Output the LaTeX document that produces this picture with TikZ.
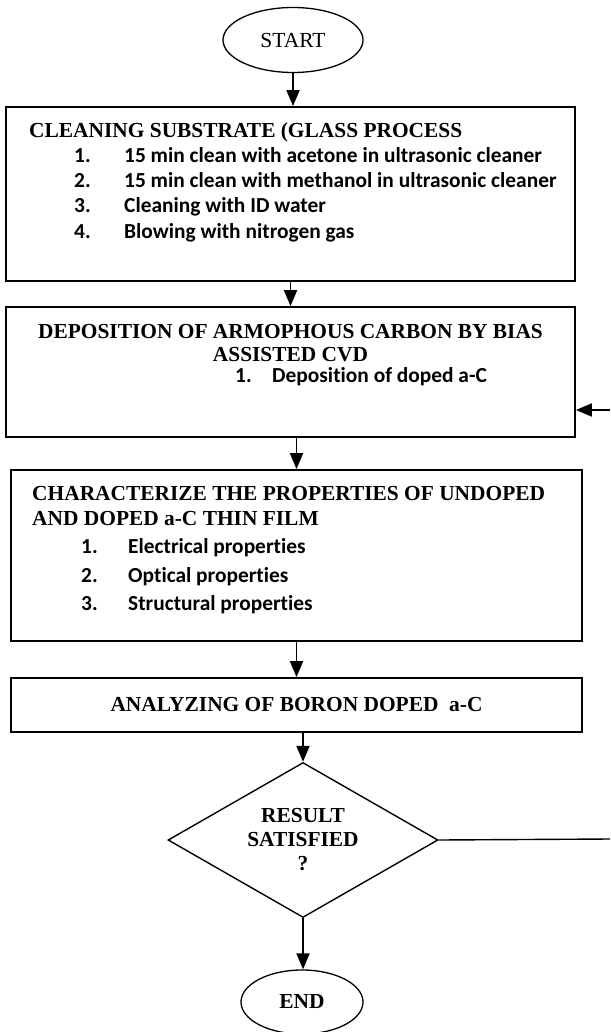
\documentclass[tikz,border=0pt]{standalone}
\usepackage{fontspec}
\setmainfont{Liberation Serif}
\newfontfamily\carlito[Ligatures=NoCommon]{Carlito}
\usetikzlibrary{shapes.geometric,arrows.meta}

\newcommand{\flowhead}{\bfseries\fontsize{21.4}{24}\selectfont}
\newcommand{\flowitem}{\carlito\bfseries\fontsize{21.4}{24}\selectfont}

\tikzset{
  flowbox/.style={rectangle, draw, line width=1.8pt, inner sep=0pt},
  termnode/.style={ellipse, draw, line width=1.3pt, inner sep=0pt},
  decnode/.style={diamond, draw, line width=1.4pt, aspect=1.74, inner sep=0pt, align=center, font=\flowhead},
  headtxt/.style={anchor=base west, inner sep=0pt, font=\flowhead},
  itemtxt/.style={anchor=base west, inner sep=0pt, font=\flowitem},
  flowarrow/.style={-{Triangle[width=13pt,length=16pt]}, line width=1.9pt}
}

\begin{document}
\begin{tikzpicture}[x=1pt, y=-1pt]
        \useasboundingbox (0,0) rectangle (610,1032);

        % Start / end
        \node[termnode, minimum width=140pt, minimum height=65pt, font=\fontsize{21.5}{24}\selectfont] (start) at (293,40) {START};
        \node[termnode, minimum width=122pt, minimum height=64pt, font=\flowhead] (end) at (302,1002) {END};

        % Cleaning
        \node[flowbox, minimum width=569pt, minimum height=174pt] (box1) at (290.5,194) {};
        \node[headtxt] (clean) at (29,138) {CLEANING SUBSTRATE (GLASS PROCESS};
        \node[itemtxt] (clean1) at (74,163) {\makebox[50pt][l]{1.}15 min clean with acetone in ultrasonic cleaner};
        \node[itemtxt] (clean2) at (74,188) {\makebox[50pt][l]{2.}15 min clean with methanol in ultrasonic cleaner};
        \node[itemtxt] (clean3) at (74,213) {\makebox[50pt][l]{3.}Cleaning with ID water};
        \node[itemtxt] (clean4) at (74,238) {\makebox[50pt][l]{4.}Blowing with nitrogen gas};

        % Deposition
        \node[flowbox, minimum width=569pt, minimum height=130pt] (box2) at (290.5,372) {};
        \node[font=\flowhead, inner sep=0pt, anchor=base] (depo) at (290.5,338) {DEPOSITION OF ARMOPHOUS CARBON BY BIAS};
        \node[font=\flowhead, inner sep=0pt, anchor=base] (depo2) at (290.5,361) {ASSISTED CVD};
        \node[itemtxt] (depo1) at (235,382) {\makebox[37pt][l]{1.}Deposition of doped a-C};

        % Characterize
        \node[flowbox, minimum width=571pt, minimum height=171pt] (box3) at (296.5,555.5) {};
        \node[headtxt] (chara) at (32,500) {CHARACTERIZE THE PROPERTIES OF UNDOPED};
        \node[headtxt] (chara2) at (32,525) {AND DOPED a-C THIN FILM};
        \node[itemtxt] (chara3) at (81,553) {\makebox[47pt][l]{1.}Electrical properties};
        \node[itemtxt] (chara4) at (81,582) {\makebox[47pt][l]{2.}Optical properties};
        \node[itemtxt] (chara5) at (81,610) {\makebox[47pt][l]{3.}Structural properties};

        % Analyzing
        \node[flowbox, minimum width=571pt, minimum height=54pt, font=\flowhead] (box4) at (296.5,705) {ANALYZING OF BORON DOPED\ \ a-C};

        % Decision
        \node[decnode, minimum width=270pt, minimum height=155pt] (check) at (303,840) {RESULT\\SATISFIED\\?};
        \coordinate (loopout) at (610,839);
        \coordinate (loopin) at (610,410);

        % Arrows
        \draw[flowarrow] (start.south) -- (start.south |- box1.north);
        \draw[flowarrow] (box1.south) -- (box2.north);
        \draw[flowarrow] (box3.north |- box2.south) -- (box3.north);
        \draw[flowarrow] (box3.south) -- (box4.north);
        \draw[flowarrow] (check.north |- box4.south) -- (check.north);
        \draw[flowarrow] (check.south) -- (check.south |- end.north);
        \draw[line width=1.4pt] (check.east) -- (loopout);
        \draw[flowarrow] (loopin) -- (loopin -| box2.east);
\end{tikzpicture}
\end{document}
